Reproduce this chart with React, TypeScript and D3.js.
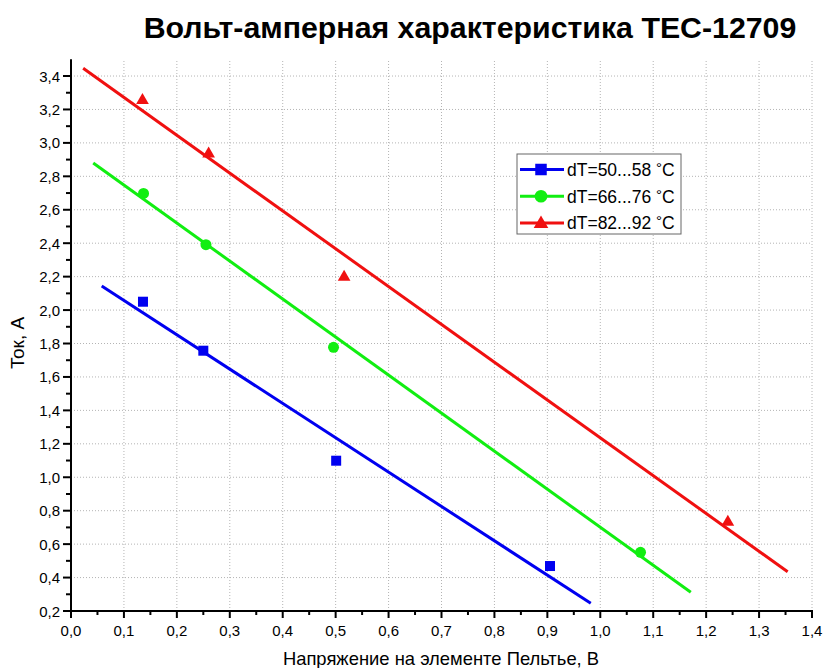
import React from "react";
import * as d3 from "d3";

const xBlue = [0.136, 0.25, 0.501, 0.905];
const yBlue = [2.05, 1.757, 1.099, 0.469];
const xGreen = [0.137, 0.255, 0.496, 1.076];
const yGreen = [2.698, 2.391, 1.777, 0.551];
const xRed = [0.135, 0.26, 0.516, 1.241];
const yRed = [3.26, 2.941, 2.204, 0.738];

const fitX = { blue: [0.058, 0.982], green: [0.042, 1.171], red: [0.023, 1.354] };
const fitY = { blue: [2.144, 0.246], green: [2.88, 0.312], red: [3.446, 0.435] };

const seriesNames = ["dT=50...58 ", "dT=66...76 ", "dT=82...92 "];
const xTicks = [0, 0.1, 0.2, 0.3, 0.4, 0.5, 0.6, 0.7, 0.8, 0.9, 1.0, 1.1, 1.2, 1.3, 1.4];
const yTicks = [0.2, 0.4, 0.6, 0.8, 1.0, 1.2, 1.4, 1.6, 1.8, 2.0, 2.2, 2.4, 2.6, 2.8, 3.0, 3.2, 3.4];

const titleText = "Вольт-амперная характеристика TEC-12709";
const xLabel = "Напряжение на элементе Пельтье, В";
const yLabel = "Ток, А";

const BLUE = "#0000f0";
const GREEN = "#11ee11";
const RED = "#f01010";

const W = 824, H = 668;
const L = 71, R = 812, T = 59.3, B = 611;

export default function App() {
  const x = d3.scaleLinear().domain([0, 1.4]).range([L, R]);
  const y = d3.scaleLinear().domain([0.2, 3.5]).range([B, T]);
  const fmt = (v: number) => v.toFixed(1).replace(".", ",");
  const line = d3.line<[number, number]>().x(d => x(d[0])).y(d => y(d[1]));

  const xMinor = d3.range(0, 28).map(i => i * 0.05 + 0.05).filter((_, i) => i % 2 === 0);
  const yMinor = d3.range(0, 17).map(i => 0.3 + i * 0.2).filter(v => v < 3.5);

  const series = [
    { key: "blue", color: BLUE, xs: xBlue, ys: yBlue, shape: "square" },
    { key: "green", color: GREEN, xs: xGreen, ys: yGreen, shape: "circle" },
    { key: "red", color: RED, xs: xRed, ys: yRed, shape: "triangle" },
  ] as const;

  const marker = (shape: string, cx: number, cy: number, color: string, k: string, sc = 1) => {
    if (shape === "square") return <rect key={k} x={cx - 5 * sc} y={cy - 5 * sc} width={10 * sc} height={10 * sc} fill={color} />;
    if (shape === "circle") return <circle key={k} cx={cx} cy={cy} r={5.5 * sc} fill={color} />;
    const s = d3.symbol().type(d3.symbolTriangle).size(70 * sc * sc)();
    return <path key={k} d={s || ""} transform={`translate(${cx},${cy + 1})`} fill={color} />;
  };

  const font = "Liberation Sans, Arial, sans-serif";
  const legX = 517, legY = 154;

  return (
    <svg width={W} height={H} style={{ position: "absolute", left: 0, top: 0, background: "#fff" }} fontFamily={font}>
      <rect x={0} y={0} width={W} height={H} fill="#fff" />
      <text x={470} y={38} textAnchor="middle" fontSize={30.3} fontWeight="bold" fill="#000">{titleText}</text>

      {/* grid */}
      {xTicks.slice(1).map(t => (
        <line key={"gx" + t} x1={x(t)} x2={x(t)} y1={B} y2={T} stroke="#b4b4b4" strokeWidth={1} strokeDasharray="1,2" />
      ))}
      {yTicks.slice(1).map(t => (
        <line key={"gy" + t} x1={L} x2={R} y1={y(t)} y2={y(t)} stroke="#b4b4b4" strokeWidth={1} strokeDasharray="1,2" />
      ))}

      {/* fit lines */}
      {series.map(s => {
        const fx = (fitX as any)[s.key] as number[];
        const fy = (fitY as any)[s.key] as number[];
        const pts: [number, number][] = fx.map((v, i) => [v, fy[i]]);
        return <path key={"l" + s.key} d={line(pts) || ""} stroke={s.color} strokeWidth={3} fill="none" />;
      })}

      {/* markers */}
      {series.map(s => s.xs.map((v, i) => marker(s.shape, x(v), y(s.ys[i]), s.color, s.key + i)))}

      {/* axes */}
      <line x1={L} x2={R + 1} y1={B} y2={B} stroke="#000" strokeWidth={2} />
      <line x1={L} x2={L} y1={B + 1} y2={T} stroke="#000" strokeWidth={2} />
      {xTicks.map(t => (
        <g key={"xt" + t}>
          <line x1={x(t)} x2={x(t)} y1={B} y2={B + 7} stroke="#000" strokeWidth={2} />
          <text x={x(t)} y={636} textAnchor="middle" fontSize={15} fill="#000">{fmt(t)}</text>
        </g>
      ))}
      {xMinor.map(t => (
        <line key={"xm" + t} x1={x(t)} x2={x(t)} y1={B} y2={B + 4} stroke="#000" strokeWidth={2} />
      ))}
      {yTicks.map(t => (
        <g key={"yt" + t}>
          <line x1={L - 8} x2={L} y1={y(t)} y2={y(t)} stroke="#000" strokeWidth={2} />
          <text x={60} y={y(t) + 5.5} textAnchor="end" fontSize={15} fill="#000">{fmt(t)}</text>
        </g>
      ))}
      {yMinor.map(t => (
        <line key={"ym" + t} x1={L - 5} x2={L} y1={y(t)} y2={y(t)} stroke="#000" strokeWidth={2} />
      ))}

      <text x={441} y={665} textAnchor="middle" fontSize={18.4} fill="#000">{xLabel}</text>
      <text transform="translate(24,343) rotate(-90)" textAnchor="middle" fontSize={19} fill="#000">{yLabel}</text>

      {/* legend */}
      <rect x={legX} y={legY} width={164} height={80} fill="#fff" stroke="#666" strokeWidth={1} />
      {series.map((s, i) => {
        const cy = legY + 15.5 + i * 26.7;
        return (
          <g key={"lg" + s.key}>
            <line x1={legX + 3} x2={legX + 47} y1={cy} y2={cy} stroke={s.color} strokeWidth={3} />
            {marker(s.shape, legX + 24, cy, s.color, "lm" + s.key, 1.15)}
            <text x={legX + 50} y={cy + 6.3} fontSize={17.5} fill="#000">
              {seriesNames[i]}
              <tspan dy={-3} fontSize={15}>°</tspan>
              <tspan dy={3}>C</tspan>
            </text>
          </g>
        );
      })}
    </svg>
  );
}
